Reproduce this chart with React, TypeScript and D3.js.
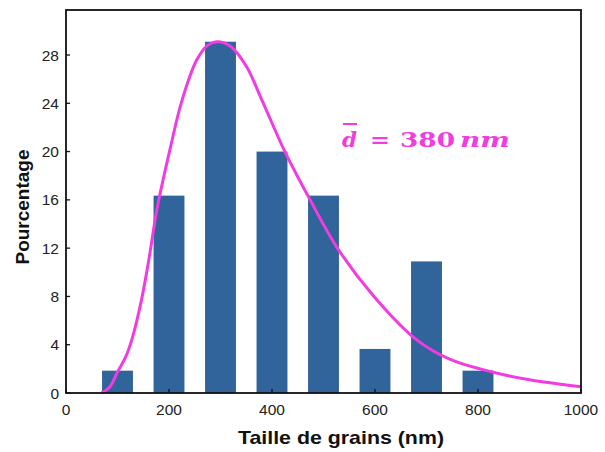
import React from "react";
import * as d3 from "d3";

const sizes = [100, 200, 300, 400, 500, 600, 700, 800];
const percents = [1.85, 16.35, 29.1, 20.0, 16.35, 3.65, 10.9, 1.85];
const xTicks = [0, 200, 400, 600, 800, 1000];
const yTicks = [0, 4, 8, 12, 16, 20, 24, 28];
const fitX = [69, 85, 100, 115, 127, 137, 147, 155, 163, 177, 202, 225, 254, 275, 296, 320, 351, 377, 425, 474, 527, 598, 681, 745, 831, 900, 1000];
const fitY = [0, 0.5, 1.75, 2.9, 4.3, 5.9, 7.8, 9.6, 11.6, 15.3, 20.2, 24.2, 27.6, 28.8, 29.1, 28.7, 27.0, 24.6, 20.0, 16.0, 12.0, 8.0, 4.4, 2.8, 1.7, 1.1, 0.52];

const W = 605, H = 452;
const L = 66, R = 581, T = 10, B = 393;
const BAR = "#30649a";
const PINK = "#f23be0";

export default function App() {
  const x = d3.scaleLinear().domain([0, 1000]).range([L, R]);
  const y = d3.scaleLinear().domain([0, 28]).range([B, 55]);
  const bw = x(60) - x(0);
  const line = d3
    .line<number>()
    .x((_, i) => x(fitX[i]))
    .y((d) => y(d))
    .curve(d3.curveCatmullRom.alpha(0.5));
  const font = "'Liberation Sans', Arial, sans-serif";
  const serif = "'DejaVu Serif', 'Liberation Serif', serif";
  return (
    <svg width={W} height={H} style={{ position: "absolute", left: 0, top: 0, background: "#fff" }}>
      {sizes.map((s, i) => (
        <rect key={s} x={x(s) - bw / 2} y={y(percents[i])} width={bw} height={B - y(percents[i])} fill={BAR} />
      ))}
      <path d={line(fitY) || ""} fill="none" stroke={PINK} strokeWidth={3} />
      <rect x={L} y={T} width={R - L} height={B - T} fill="none" stroke="#111" strokeWidth={1.8} />
      {yTicks.map((t) => (
        <g key={t}>
          <line x1={L} x2={L + 4} y1={y(t)} y2={y(t)} stroke="#111" strokeWidth={1.3} />
          <text x={L - 7} y={y(t) + 5.5} textAnchor="end" fontFamily={font} fontSize={15.5} fill="#222">
            {t}
          </text>
        </g>
      ))}
      {xTicks.map((t) => (
        <g key={t}>
          <line x1={x(t)} x2={x(t)} y1={B} y2={B - 4} stroke="#111" strokeWidth={1.3} />
          <text x={x(t)} y={B + 22} textAnchor="middle" fontFamily={font} fontSize={15.5} fill="#222">
            {t}
          </text>
        </g>
      ))}
      <text
        x={238}
        y={444}
        textLength={206}
        lengthAdjust="spacingAndGlyphs"
        fontFamily={font}
        fontWeight="bold"
        fontSize={19}
        fill="#111"
      >
        Taille de grains (nm)
      </text>
      <text
        transform={`translate(29,${207}) rotate(-90)`}
        textAnchor="middle"
        fontFamily={font}
        fontWeight="bold"
        fontSize={19}
        fill="#111"
      >
        Pourcentage
      </text>
      <line x1={343} x2={357} y1={124} y2={124} stroke={PINK} strokeWidth={2} />
      <g fontFamily={serif} fontWeight="bold" fontSize={20} fill={PINK}>
        <text x={342} y={147} textLength={15} lengthAdjust="spacingAndGlyphs" fontStyle="italic">d</text>
        <text x={370} y={147} textLength={20} lengthAdjust="spacingAndGlyphs">=</text>
        <text x={400} y={147} textLength={55} lengthAdjust="spacingAndGlyphs">380</text>
        <text x={460} y={147} textLength={50} lengthAdjust="spacingAndGlyphs" fontStyle="italic">nm</text>
      </g>
    </svg>
  );
}
